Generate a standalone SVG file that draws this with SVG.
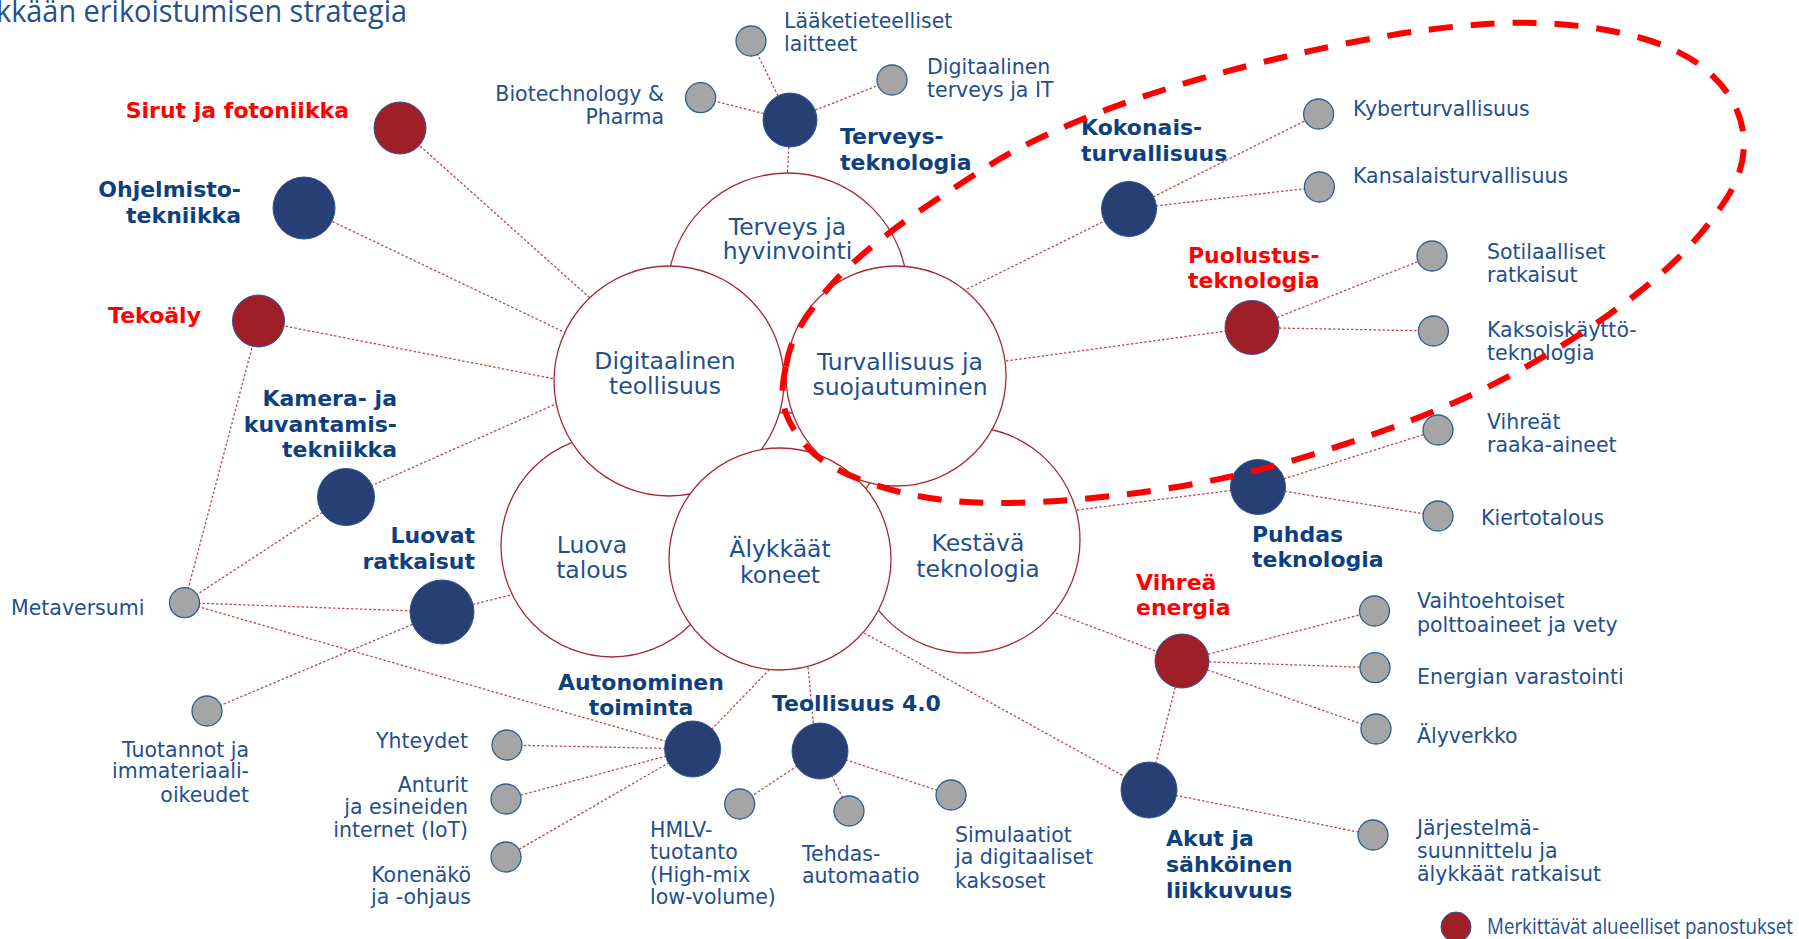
<svg xmlns="http://www.w3.org/2000/svg" width="1799" height="939" viewBox="0 0 1799 939">
<style>
text{font-family:"DejaVu Sans","Open Sans",sans-serif;}
.lbl{font-size:20.5px;fill:#1F4F8F;}
.b{font-size:22px;font-weight:bold;fill:#0E3F7E;}
.r{fill:#FF0000;}
.big{font-size:23.5px;fill:#1F4F8F;text-anchor:middle;}
.end{text-anchor:end;}
.mid{text-anchor:middle;}
.area{fill:#FFFFFF;stroke:#A82832;stroke-width:1.3;}
.con{stroke:#C4444E;stroke-width:1.3;stroke-dasharray:2.5 2;fill:none;}
.gray{fill:#A5A5A5;stroke:#2E5C92;stroke-width:1.3;}
.blue{fill:#273F73;stroke:#2F5597;stroke-width:1;}
.red{fill:#9E1F28;stroke:#2F5597;stroke-width:1;}
</style>
<rect width="1799" height="939" fill="#FFFFFF"/>
<text x="-4" y="22" textLength="411" lengthAdjust="spacingAndGlyphs" style="font-family:'Open Sans',sans-serif;font-size:31px;fill:#23508F;">kkään erikoistumisen strategia</text>

<g id="areas">
<g id="area-terveys"><circle class="area" cx="787.5" cy="293" r="120"/><text class="big"><tspan x="787.5" y="235">Terveys ja</tspan><tspan x="787.5" y="259">hyvinvointi</tspan></text></g>
<g id="area-luova"><circle class="area" cx="612" cy="546" r="111"/><text class="big"><tspan x="592" y="553">Luova</tspan><tspan x="592" y="578">talous</tspan></text></g>
<g id="area-kestava"><circle class="area" cx="967" cy="540" r="113"/><text class="big"><tspan x="978" y="551">Kestävä</tspan><tspan x="978" y="577">teknologia</tspan></text></g>
<g id="area-digi"><circle class="area" cx="669" cy="381" r="115"/><text class="big"><tspan x="665" y="369">Digitaalinen</tspan><tspan x="665" y="394">teollisuus</tspan></text></g>
<g id="area-turva"><circle class="area" cx="896" cy="376" r="110"/><text class="big"><tspan x="900" y="370">Turvallisuus ja</tspan><tspan x="900" y="395">suojautuminen</tspan></text></g>
<g id="area-alykkaat"><circle class="area" cx="780" cy="559" r="111"/><text class="big"><tspan x="780" y="557">Älykkäät</tspan><tspan x="780" y="583">koneet</tspan></text></g>
</g>

<g id="connectors">
<line class="con" x1="790" y1="120" x2="787.5" y2="173"/>
<line class="con" x1="790" y1="120" x2="751" y2="41"/>
<line class="con" x1="790" y1="120" x2="700.6" y2="97.7"/>
<line class="con" x1="790" y1="120" x2="892" y2="80"/>
<line class="con" x1="400" y1="128" x2="590" y2="298"/>
<line class="con" x1="304" y1="208" x2="566" y2="333"/>
<line class="con" x1="259" y1="321" x2="555" y2="379"/>
<line class="con" x1="346" y1="497" x2="556" y2="404"/>
<line class="con" x1="184.5" y1="602.7" x2="259" y2="321"/>
<line class="con" x1="184.5" y1="602.7" x2="346" y2="497"/>
<line class="con" x1="184.5" y1="602.7" x2="442" y2="612"/>
<line class="con" x1="184.5" y1="602.7" x2="692.6" y2="749"/>
<line class="con" x1="207" y1="711" x2="442" y2="612"/>
<line class="con" x1="442" y1="612" x2="511" y2="595"/>
<line class="con" x1="692.6" y1="749" x2="770" y2="669"/>
<line class="con" x1="692.6" y1="749" x2="507" y2="745"/>
<line class="con" x1="692.6" y1="749" x2="506" y2="799"/>
<line class="con" x1="692.6" y1="749" x2="506" y2="857"/>
<line class="con" x1="808" y1="667" x2="815" y2="740"/>
<line class="con" x1="820" y1="751" x2="739.7" y2="804"/>
<line class="con" x1="820" y1="751" x2="849" y2="811"/>
<line class="con" x1="820" y1="751" x2="951" y2="795"/>
<line class="con" x1="864" y1="633" x2="1149" y2="790"/>
<line class="con" x1="1182" y1="661" x2="1149" y2="790"/>
<line class="con" x1="1149" y1="790" x2="1373" y2="835"/>
<line class="con" x1="1056" y1="613" x2="1182" y2="661"/>
<line class="con" x1="1182" y1="661" x2="1374.5" y2="611"/>
<line class="con" x1="1182" y1="661" x2="1375" y2="667.7"/>
<line class="con" x1="1182" y1="661" x2="1376" y2="729"/>
<line class="con" x1="1077" y1="510" x2="1258" y2="487"/>
<line class="con" x1="1258" y1="487" x2="1438" y2="430"/>
<line class="con" x1="1258" y1="487" x2="1438" y2="516"/>
<line class="con" x1="1006" y1="361" x2="1252" y2="327.5"/>
<line class="con" x1="1252" y1="327.5" x2="1432" y2="256"/>
<line class="con" x1="1252" y1="327.5" x2="1433.4" y2="331"/>
<line class="con" x1="967" y1="289" x2="1129" y2="209"/>
<line class="con" x1="1129" y1="209" x2="1318.6" y2="114"/>
<line class="con" x1="1129" y1="209" x2="1319.4" y2="187"/>
</g>

<g id="nodes">
<g id="n-terveystek"><circle class="blue" cx="790" cy="120" r="27"/><text class="b"><tspan x="840" y="144">Terveys-</tspan><tspan x="840" y="170">teknologia</tspan></text></g>
<g id="n-laake"><circle class="gray" cx="751" cy="41" r="15"/><text class="lbl"><tspan x="784" y="28">Lääketieteelliset</tspan><tspan x="784" y="51">laitteet</tspan></text></g>
<g id="n-biotech"><circle class="gray" cx="700.6" cy="97.7" r="15"/><text class="lbl end"><tspan x="664" y="101">Biotechnology &amp;</tspan><tspan x="664" y="124">Pharma</tspan></text></g>
<g id="n-digiterveys"><circle class="gray" cx="892" cy="80" r="15"/><text class="lbl"><tspan x="927" y="74">Digitaalinen</tspan><tspan x="927" y="97">terveys ja IT</tspan></text></g>
<g id="n-sirut"><circle class="red" cx="400" cy="128" r="26"/><text class="b r end" x="349" y="118">Sirut ja fotoniikka</text></g>
<g id="n-ohjelmisto"><circle class="blue" cx="304" cy="208" r="31"/><text class="b end"><tspan x="241" y="197">Ohjelmisto-</tspan><tspan x="241" y="223">tekniikka</tspan></text></g>
<g id="n-tekoaly"><circle class="red" cx="258.5" cy="321" r="26"/><text class="b r end" x="201" y="323">Tekoäly</text></g>
<g id="n-kamera"><circle class="blue" cx="346" cy="497" r="28.5"/><text class="b end"><tspan x="397" y="406">Kamera- ja</tspan><tspan x="397" y="432">kuvantamis-</tspan><tspan x="397" y="457">tekniikka</tspan></text></g>
<g id="n-metaversumi"><circle class="gray" cx="184.5" cy="602.7" r="15"/><text class="lbl" x="11" y="615">Metaversumi</text></g>
<g id="n-luovat"><circle class="blue" cx="442" cy="612" r="32"/><text class="b end"><tspan x="475" y="543">Luovat</tspan><tspan x="475" y="569">ratkaisut</tspan></text></g>
<g id="n-tuotannot"><circle class="gray" cx="207" cy="711" r="15"/><text class="lbl end"><tspan x="249" y="757">Tuotannot ja</tspan><tspan x="249" y="778">immateriaali-</tspan><tspan x="249" y="802">oikeudet</tspan></text></g>
<g id="n-autonominen"><circle class="blue" cx="692.6" cy="749" r="28"/><text class="b mid"><tspan x="641" y="690">Autonominen</tspan><tspan x="641" y="715">toiminta</tspan></text></g>
<g id="n-yhteydet"><circle class="gray" cx="507" cy="745" r="15"/><text class="lbl end" x="468" y="748">Yhteydet</text></g>
<g id="n-anturit"><circle class="gray" cx="506" cy="799" r="15"/><text class="lbl end"><tspan x="468" y="792">Anturit</tspan><tspan x="468" y="814">ja esineiden</tspan><tspan x="468" y="837">internet (IoT)</tspan></text></g>
<g id="n-konenako"><circle class="gray" cx="506" cy="857" r="15"/><text class="lbl end"><tspan x="471" y="882">Konenäkö</tspan><tspan x="471" y="904">ja -ohjaus</tspan></text></g>
<g id="n-teollisuus"><circle class="blue" cx="820" cy="751" r="28"/><text class="b" x="772" y="711">Teollisuus 4.0</text></g>
<g id="n-hmlv"><circle class="gray" cx="739.7" cy="804" r="15"/><text class="lbl"><tspan x="650" y="837">HMLV-</tspan><tspan x="650" y="859">tuotanto</tspan><tspan x="650" y="882">(High-mix</tspan><tspan x="650" y="904">low-volume)</tspan></text></g>
<g id="n-tehdas"><circle class="gray" cx="849" cy="811" r="15"/><text class="lbl"><tspan x="802" y="861">Tehdas-</tspan><tspan x="802" y="883">automaatio</tspan></text></g>
<g id="n-simulaatiot"><circle class="gray" cx="951" cy="795" r="15"/><text class="lbl"><tspan x="955" y="842">Simulaatiot</tspan><tspan x="955" y="864">ja digitaaliset</tspan><tspan x="955" y="888">kaksoset</tspan></text></g>
<g id="n-akut"><circle class="blue" cx="1149" cy="790" r="28"/><text class="b"><tspan x="1166" y="846">Akut ja</tspan><tspan x="1166" y="872">sähköinen</tspan><tspan x="1166" y="898">liikkuvuus</tspan></text></g>
<g id="n-jarjestelma"><circle class="gray" cx="1373" cy="835" r="15"/><text class="lbl"><tspan x="1417" y="835">Järjestelmä-</tspan><tspan x="1417" y="858">suunnittelu ja</tspan><tspan x="1417" y="881">älykkäät ratkaisut</tspan></text></g>
<g id="n-vihrea"><circle class="red" cx="1182" cy="661" r="27"/><text class="b r"><tspan x="1136" y="590">Vihreä</tspan><tspan x="1136" y="615">energia</tspan></text></g>
<g id="n-vaihto"><circle class="gray" cx="1374.5" cy="611" r="15"/><text class="lbl"><tspan x="1417" y="608">Vaihtoehtoiset</tspan><tspan x="1417" y="632">polttoaineet ja vety</tspan></text></g>
<g id="n-energia"><circle class="gray" cx="1375" cy="667.7" r="15"/><text class="lbl" x="1417" y="684">Energian varastointi</text></g>
<g id="n-alyverkko"><circle class="gray" cx="1376" cy="729" r="15"/><text class="lbl" x="1417" y="743">Älyverkko</text></g>
<g id="n-puhdas"><circle class="blue" cx="1258" cy="487" r="27.5"/><text class="b"><tspan x="1252" y="542">Puhdas</tspan><tspan x="1252" y="567">teknologia</tspan></text></g>
<g id="n-vihreat"><circle class="gray" cx="1438" cy="430" r="15"/><text class="lbl"><tspan x="1487" y="429">Vihreät</tspan><tspan x="1487" y="452">raaka-aineet</tspan></text></g>
<g id="n-kierto"><circle class="gray" cx="1438" cy="516" r="15"/><text class="lbl" x="1481" y="525">Kiertotalous</text></g>
<g id="n-puolustus"><circle class="red" cx="1252" cy="327.5" r="27"/><text class="b r"><tspan x="1188" y="263">Puolustus-</tspan><tspan x="1188" y="288">teknologia</tspan></text></g>
<g id="n-sotilaalliset"><circle class="gray" cx="1432" cy="256" r="15"/><text class="lbl"><tspan x="1487" y="259">Sotilaalliset</tspan><tspan x="1487" y="282">ratkaisut</tspan></text></g>
<g id="n-kaksois"><circle class="gray" cx="1433.4" cy="331" r="15"/><text class="lbl"><tspan x="1487" y="337">Kaksoiskäyttö-</tspan><tspan x="1487" y="360">teknologia</tspan></text></g>
<g id="n-kokonais"><circle class="blue" cx="1129" cy="209" r="27.5"/><text class="b"><tspan x="1081" y="135">Kokonais-</tspan><tspan x="1081" y="161">turvallisuus</tspan></text></g>
<g id="n-kyber"><circle class="gray" cx="1318.6" cy="114" r="15"/><text class="lbl" x="1353" y="116">Kyberturvallisuus</text></g>
<g id="n-kansalais"><circle class="gray" cx="1319.4" cy="187" r="15"/><text class="lbl" x="1353" y="183">Kansalaisturvallisuus</text></g>
</g>

<path id="focus" d="M 786,366.5 Q 790,338 811,310.5 Q 830,283 858.5,258 Q 887,233 922.5,209 Q 958,185 991.5,164 Q 1025,143 1080.5,120 Q 1136,97 1206.5,77 Q 1277,57 1353.5,42 Q 1430,27 1495,23.5 Q 1560,20 1619,32.5 Q 1678,45 1708,71.5 Q 1738,98 1743,131.5 Q 1748,165 1726.5,198.5 Q 1705,232 1676.5,259.5 Q 1648,287 1609,314.5 Q 1570,342 1523,368.5 Q 1476,395 1418.5,417.5 Q 1361,440 1299.5,458.5 Q 1238,477 1173.5,487.5 Q 1109,498 1047.5,501.5 Q 986,505 944,500 Q 902,495 864,481 Q 826,467 809.5,449.5 Q 793,432 786,413.5 Q 779,395 786,366.5 Z" fill="none" stroke="#FF0000" stroke-width="6" stroke-dasharray="24 18"/>

<g id="legend"><circle class="red" cx="1456" cy="927" r="15"/><text x="1487" y="934" textLength="306" lengthAdjust="spacingAndGlyphs" style="font-family:'Open Sans',sans-serif;font-size:21px;fill:#1F4F8F;">Merkittävät alueelliset panostukset</text></g>
</svg>
